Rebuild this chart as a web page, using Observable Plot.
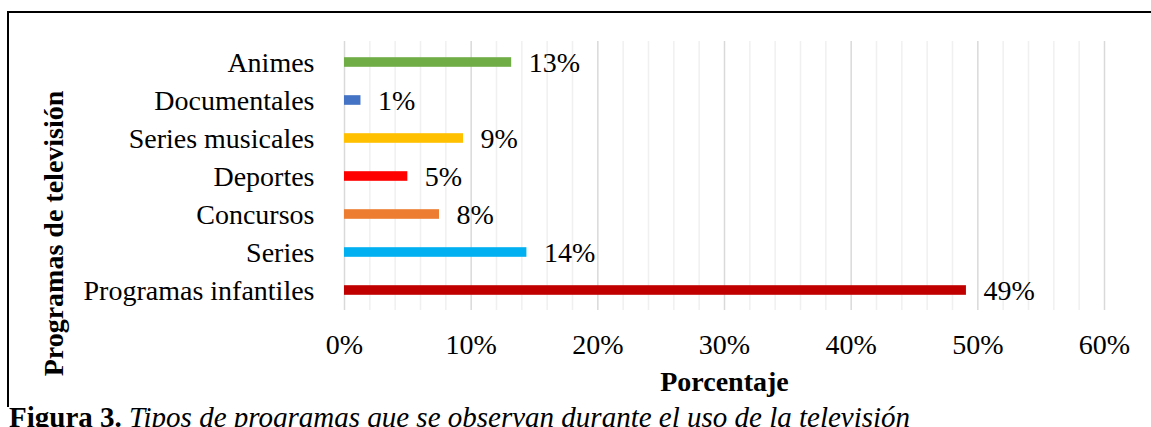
<!DOCTYPE html>
<html>
<head>
<meta charset="utf-8">
<script src="https://cdn.jsdelivr.net/npm/d3@7"></script>
<script src="https://cdn.jsdelivr.net/npm/@observablehq/plot@0.6"></script>
<style>
  html, body { margin: 0; padding: 0; background: #fff; }
  #wrap { position: relative; width: 1151px; height: 427px; overflow: hidden; background: #fff; }
  #frame { position: absolute; left: 7px; top: 11px; width: 1300px; height: 394px;
           border-top: 2px solid #000; border-left: 2px solid #000; }
  #chart { position: absolute; left: 0; top: 0; }
  #caption { position: absolute; left: 9px; top: 401px; white-space: nowrap;
             font-family: "Liberation Serif", "Times New Roman", serif; font-size: 29px; color: #000; }
</style>
</head>
<body>
<div id="wrap">
  <div id="frame"></div>
  <div id="chart"></div>
  <div id="caption"><b>Figura 3.</b> <i>Tipos de programas que se observan durante el uso de la televisión</i></div>
</div>
<script>
const categories = ["Animes", "Documentales", "Series musicales", "Deportes", "Concursos", "Series", "Programas infantiles"];
const values = [13.2, 1.3, 9.4, 5.0, 7.5, 14.4, 49.1];
const valueLabels = ["13%", "1%", "9%", "5%", "8%", "14%", "49%"];
const barColors = ["#70ad47", "#4472c4", "#ffc000", "#ff0000", "#ed7d31", "#00b0f0", "#c00000"];
const xTicks = [0, 10, 20, 30, 40, 50, 60];
const minorTicks = [2, 4, 6, 8, 12, 14, 16, 18, 22, 24, 26, 28, 32, 34, 36, 38, 42, 44, 46, 48, 52, 54, 56, 58];
const xTitle = "Porcentaje";
const yTitle = "Programas de televisión";

const data = categories.map((c, i) => ({name: c, value: values[i], label: valueLabels[i], color: barColors[i]}));

const FS = 28;
const chart = Plot.plot({
  width: 1151,
  height: 395,
  marginLeft: 344,
  marginRight: 47,
  marginTop: 41,
  marginBottom: 85,
  style: {fontFamily: '"Liberation Serif", "Times New Roman", serif', fontSize: FS + "px", background: "transparent", color: "#000", overflow: "visible"},
  x: {domain: [0, 60], ticks: xTicks, tickFormat: d => d + "%", tickSize: 0, tickPadding: 24, label: null},
  y: {domain: categories, padding: 0, tickSize: 0, tickPadding: 30, label: null},
  color: {type: "identity"},
  marks: [
    Plot.ruleX(minorTicks, {stroke: "#f0f0f0", strokeWidth: 1.5}),
    Plot.ruleX(xTicks, {stroke: "#d9d9d9", strokeWidth: 1.5}),
    Plot.axisX({ticks: xTicks, tickFormat: d => d + "%", tickSize: 0, tickPadding: 24, label: null, fontSize: FS}),
    Plot.axisY({tickSize: 0, tickPadding: 30, label: null, dy: 0.5, fontSize: FS}),
    Plot.barX(data, {x: "value", y: "name", fill: "color", insetTop: 14.2, insetBottom: 14.2}),
    Plot.text(data, {x: "value", y: "name", text: "label", textAnchor: "start", dx: 17, dy: 0.5, fill: "#000", fontSize: FS}),
    Plot.text([xTitle], {frameAnchor: "bottom", text: d => d, dy: 72, fontWeight: "bold", fontSize: FS, fill: "#000", lineAnchor: "middle", textAnchor: "middle"}),
    Plot.text([yTitle], {frameAnchor: "left", text: d => d, dx: -290, dy: 57.5, rotate: -90, fontWeight: "bold", fontSize: FS, fill: "#000", lineAnchor: "middle", textAnchor: "middle"})
  ]
});
document.getElementById("chart").appendChild(chart);
</script>
</body>
</html>
